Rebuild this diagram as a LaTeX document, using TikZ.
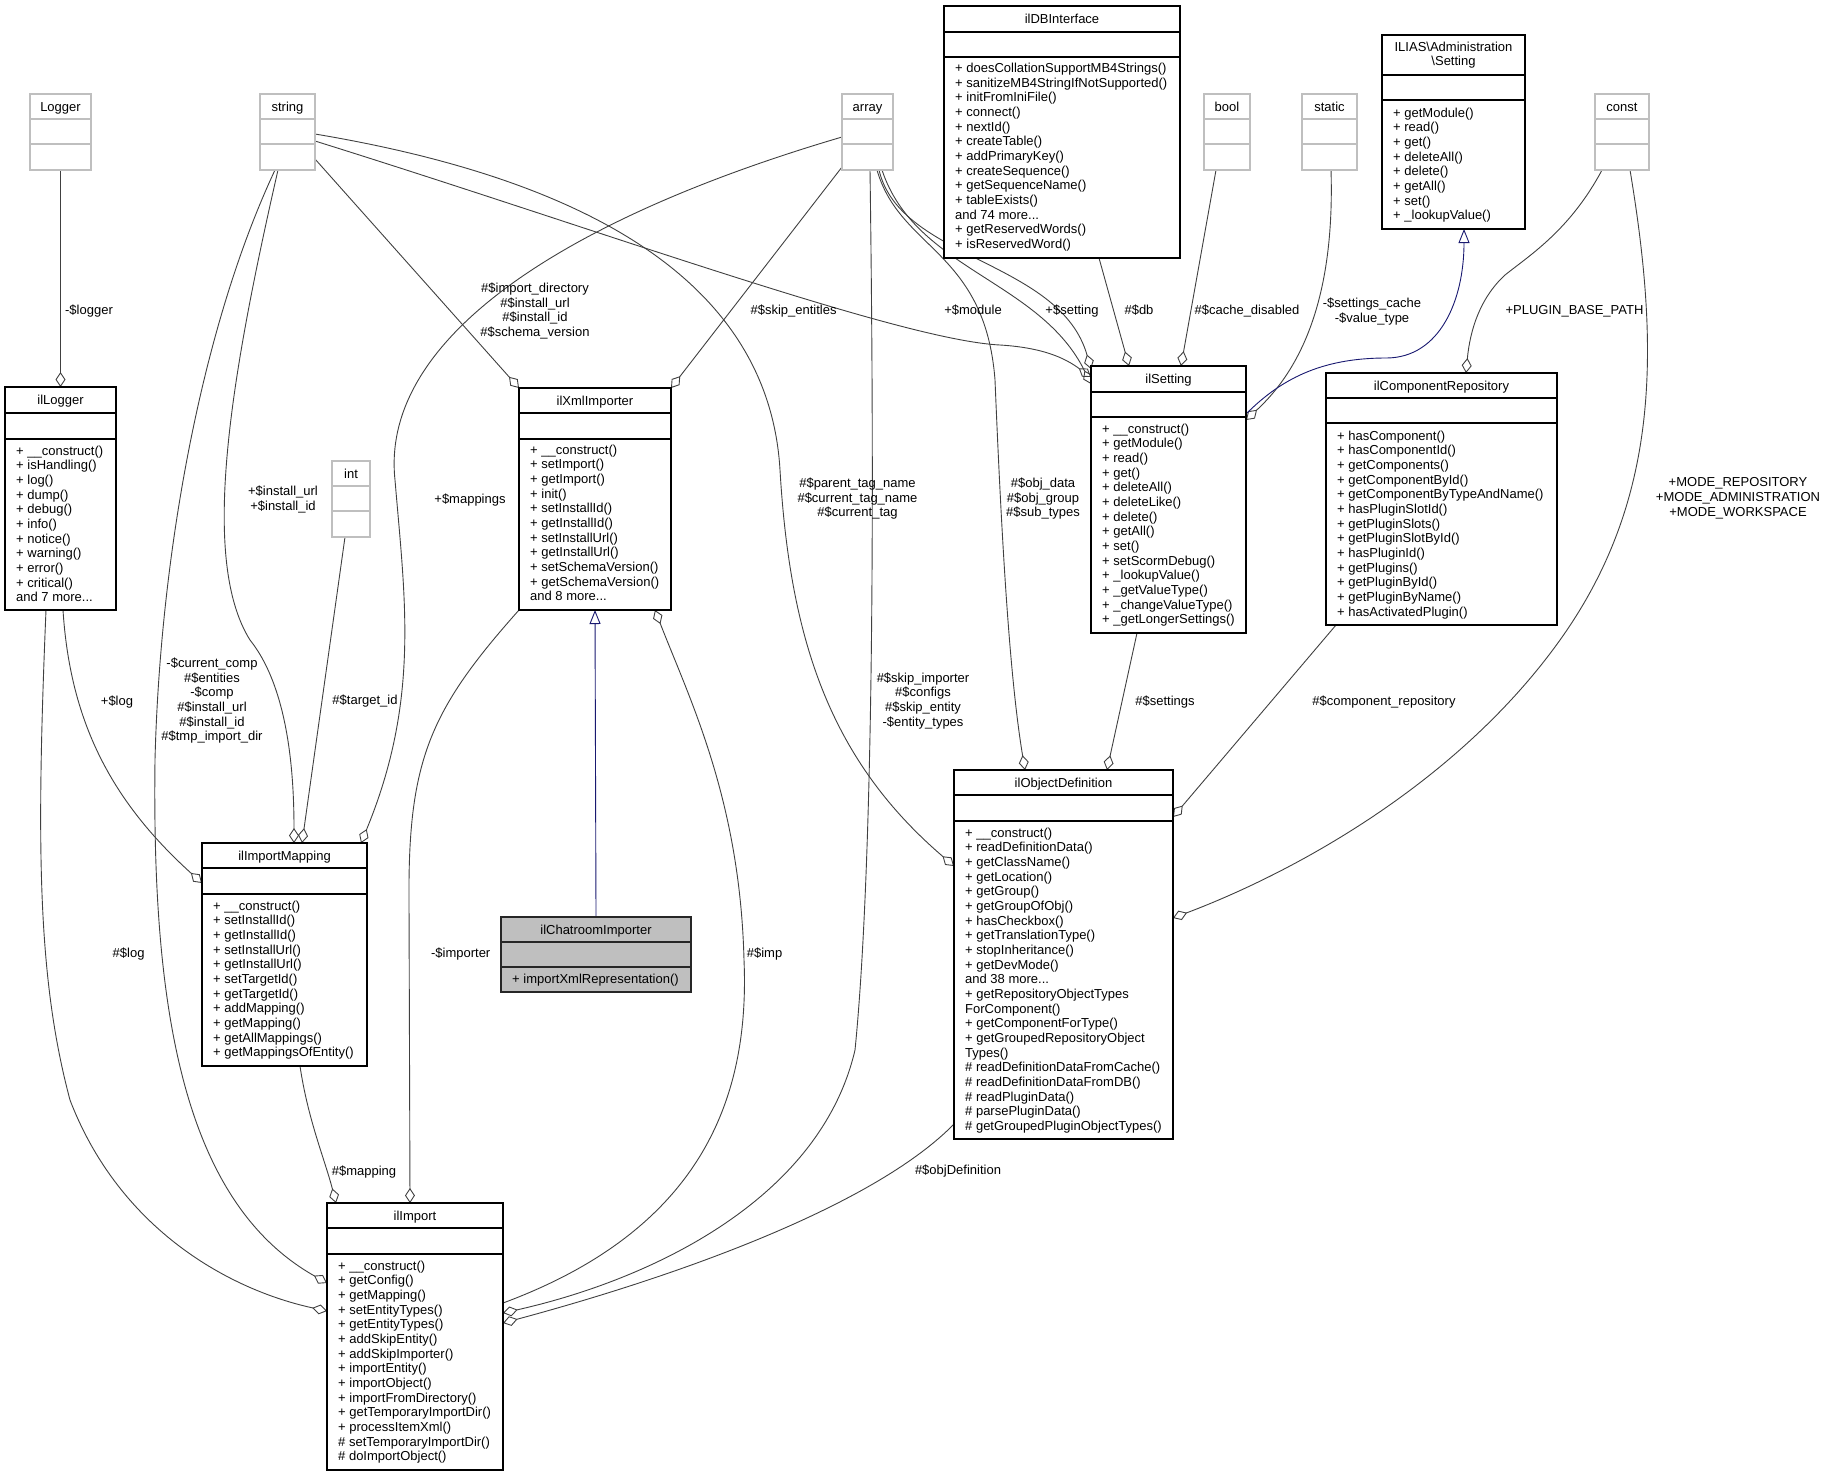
\documentclass[tikz,border=0pt]{standalone}
\usepackage{fontspec}
\setmainfont{Liberation Sans}
\usetikzlibrary{arrows.meta,fit,calc}
\pgfdeclarelayer{edges}
\pgfsetlayers{edges,main}
\definecolor{edgec}{HTML}{404040}
\definecolor{typec}{HTML}{BFBFBF}
\definecolor{inhc}{HTML}{191970}
\definecolor{chatfill}{HTML}{BFBFBF}
\tikzset{
 cb/.style={draw=black, line width=1.1pt, fill=white, inner sep=0pt, outer sep=0pt},
 tb/.style={draw=typec, line width=1.1pt, fill=white, inner sep=0pt, outer sep=0pt},
 gb/.style={draw=black!85, line width=1.1pt, fill=chatfill, inner sep=0pt, outer sep=0pt},
 ttl/.style={anchor=base, inner sep=0pt, font=\fontsize{13}{14.65}\selectfont},
 mth/.style={anchor=north west, align=left, inner sep=0pt, font=\fontsize{13}{14.65}\selectfont, execute at begin node=\rule{0pt}{9.8pt}},
 lab/.style={anchor=north, align=center, inner sep=0pt, font=\fontsize{13}{14.65}\selectfont, execute at begin node=\rule{0pt}{9.8pt}},
 aggr/.style={draw=edgec, line width=0.9pt, -{Diamond[open, length=15pt, width=10pt]}},
 inh/.style={draw=inhc, line width=0.9pt, -{Triangle[open, length=14pt, width=11pt]}},
}
% name, style, left, top, right, bottom, sep1, sep2, title
\newcommand{\umlcls}[9]{%
  \node[#2, fit={(#3,#4) (#5,#6)}] (#1) {};
  \draw[#2] (#3,#7) -- (#5,#7) (#3,#8) -- (#5,#8);
  \node[ttl] (#1-title) at ({(#3+#5)/2},{(#4+#7)/2+4.5}) {#9};
}
\begin{document}
\begin{tikzpicture}[x=1pt,y=-1pt]
\useasboundingbox (0,0) rectangle (1830,1476);

% type boxes
\umlcls{Logger}{tb}{30}{94}{91}{170}{119}{144}{Logger}
\umlcls{string}{tb}{260}{94}{315}{170}{119}{144}{string}
\umlcls{array}{tb}{842}{94}{893}{170}{119}{144}{array}
\umlcls{bool}{tb}{1204}{94}{1250}{170}{119}{144}{bool}
\umlcls{static}{tb}{1302}{94}{1357}{170}{119}{144}{static}
\umlcls{const}{tb}{1595}{94}{1649}{170}{119}{144}{const}
\umlcls{int}{tb}{332}{461}{370}{537}{486}{511}{int}

% classes
\umlcls{ilDBInterface}{cb}{944}{6}{1180}{258}{32}{57}{ilDBInterface}
\node[mth] (ilDBInterface-m) at (955,63) {+ doesCollationSupportMB4Strings()\\+ sanitizeMB4StringIfNotSupported()\\+ initFromIniFile()\\+ connect()\\+ nextId()\\+ createTable()\\+ addPrimaryKey()\\+ createSequence()\\+ getSequenceName()\\+ tableExists()\\and 74 more...\\+ getReservedWords()\\+ isReservedWord()};

\node[cb, fit={(1382,35) (1525,229)}] (ILIASSetting) {};
\draw[cb] (1382,75) -- (1525,75) (1382,100) -- (1525,100);
\node[lab] (ILIASSetting-title) at (1453.5,41.7) {ILIAS\textbackslash Administration\\\textbackslash Setting};
\node[mth] (ILIASSetting-m) at (1393,107.7) {+ getModule()\\+ read()\\+ get()\\+ deleteAll()\\+ delete()\\+ getAll()\\+ set()\\+ \_lookupValue()};

\umlcls{ilLogger}{cb}{5}{387}{116}{610}{413}{439}{ilLogger}
\node[mth] (ilLogger-m) at (16,445.7) {+ \_\_construct()\\+ isHandling()\\+ log()\\+ dump()\\+ debug()\\+ info()\\+ notice()\\+ warning()\\+ error()\\+ critical()\\and 7 more...};

\umlcls{ilXmlImporter}{cb}{519}{388}{671}{610}{413}{439}{ilXmlImporter}
\node[mth] (ilXmlImporter-m) at (530,444.7) {+ \_\_construct()\\+ setImport()\\+ getImport()\\+ init()\\+ setInstallId()\\+ getInstallId()\\+ setInstallUrl()\\+ getInstallUrl()\\+ setSchemaVersion()\\+ getSchemaVersion()\\and 8 more...};

\umlcls{ilSetting}{cb}{1091}{366}{1246}{633}{392}{417}{ilSetting}
\node[mth] (ilSetting-m) at (1102,423.7) {+ \_\_construct()\\+ getModule()\\+ read()\\+ get()\\+ deleteAll()\\+ deleteLike()\\+ delete()\\+ getAll()\\+ set()\\+ setScormDebug()\\+ \_lookupValue()\\+ \_getValueType()\\+ \_changeValueType()\\+ \_getLongerSettings()};

\umlcls{ilComponentRepository}{cb}{1326}{373}{1557}{625}{398}{423}{ilComponentRepository}
\node[mth] (ilComponentRepository-m) at (1337,430.7) {+ hasComponent()\\+ hasComponentId()\\+ getComponents()\\+ getComponentById()\\+ getComponentByTypeAndName()\\+ hasPluginSlotId()\\+ getPluginSlots()\\+ getPluginSlotById()\\+ hasPluginId()\\+ getPlugins()\\+ getPluginById()\\+ getPluginByName()\\+ hasActivatedPlugin()};

\umlcls{ilImportMapping}{cb}{202}{843}{367}{1066}{868}{894}{ilImportMapping}
\node[mth] (ilImportMapping-m) at (213,900.7) {+ \_\_construct()\\+ setInstallId()\\+ getInstallId()\\+ setInstallUrl()\\+ getInstallUrl()\\+ setTargetId()\\+ getTargetId()\\+ addMapping()\\+ getMapping()\\+ getAllMappings()\\+ getMappingsOfEntity()};

\umlcls{ilChatroomImporter}{gb}{501}{917}{691}{992}{942}{967}{ilChatroomImporter}
\node[mth] (ilChatroomImporter-m) at (512,973.2) {+ importXmlRepresentation()};

\umlcls{ilObjectDefinition}{cb}{954}{770}{1173}{1139}{795}{821}{ilObjectDefinition}
\node[mth] (ilObjectDefinition-m) at (965,827.7) {+ \_\_construct()\\+ readDefinitionData()\\+ getClassName()\\+ getLocation()\\+ getGroup()\\+ getGroupOfObj()\\+ hasCheckbox()\\+ getTranslationType()\\+ stopInheritance()\\+ getDevMode()\\and 38 more...\\+ getRepositoryObjectTypes\\ForComponent()\\+ getComponentForType()\\+ getGroupedRepositoryObject\\Types()\\\# readDefinitionDataFromCache()\\\# readDefinitionDataFromDB()\\\# readPluginData()\\\# parsePluginData()\\\# getGroupedPluginObjectTypes()};

\umlcls{ilImport}{cb}{327}{1203}{503}{1470}{1228}{1254}{ilImport}
\node[mth] (ilImport-m) at (338,1260.7) {+ \_\_construct()\\+ getConfig()\\+ getMapping()\\+ setEntityTypes()\\+ getEntityTypes()\\+ addSkipEntity()\\+ addSkipImporter()\\+ importEntity()\\+ importObject()\\+ importFromDirectory()\\+ getTemporaryImportDir()\\+ processItemXml()\\\# setTemporaryImportDir()\\\# doImportObject()};

% connectors
\begin{pgfonlayer}{edges}
\draw[aggr] (Logger.south) -- (ilLogger.north);
\draw[aggr] ($(ilLogger.south west)+(58,0)$) .. controls (70,720) and (110,800) .. ($(ilImportMapping.north west)+(0,40)$);
\draw[aggr] ($(ilLogger.south west)+(41,0)$) .. controls (36,850) and (38,980) .. (70,1100) .. controls (120,1230) and (230,1290) .. ($(ilImport.north west)+(0,108)$);
\draw[aggr] ($(string.south west)+(15,0)$) .. controls (200,330) and (160,560) .. (155,760) .. controls (152,1000) and (180,1200) .. ($(ilImport.north west)+(0,80)$);
\draw[aggr] ($(string.south west)+(18,0)$) .. controls (230,380) and (200,560) .. (250,640) .. controls (290,690) and (294,780) .. ($(ilImportMapping.north west)+(92,0)$);
\draw[aggr] ($(int.south west)+(13,0)$) -- ($(ilImportMapping.north west)+(100,0)$);
\draw[aggr] ($(array.north west)+(0,43)$) .. controls (560,220) and (380,340) .. (395,480) .. controls (405,600) and (420,700) .. ($(ilImportMapping.north west)+(159,0)$);
\draw[aggr] ($(string.north west)+(55,65)$) -- (ilXmlImporter.north west);
\draw[aggr] ($(array.north west)+(0,73)$) -- (ilXmlImporter.north east);
\draw[aggr] ($(string.north west)+(55,47)$) .. controls (600,230) and (900,340) .. (1000,345) .. controls (1050,348) and (1070,362) .. ($(ilSetting.north west)+(0,11)$);
\draw[aggr] ($(array.south west)+(37,0)$) .. controls (900,260) and (1060,260) .. ($(ilSetting.north west)+(0,3)$);
\draw[aggr] ($(array.south west)+(40,0)$) .. controls (915,270) and (1040,280) .. ($(ilSetting.north west)+(0,18)$);
\draw[aggr] ($(array.south west)+(35,0)$) .. controls (900,250) and (985,250) .. (995,380) .. controls (1002,550) and (1010,680) .. ($(ilObjectDefinition.north west)+(71,0)$);
\draw[aggr] ($(array.south west)+(28,0)$) .. controls (876,600) and (870,900) .. (855,1050) .. controls (820,1200) and (650,1280) .. ($(ilImport.north east)+(0,110)$);
\draw[aggr] ($(ilDBInterface.south west)+(155,0)$) -- ($(ilSetting.north west)+(38,0)$);
\draw[aggr] ($(bool.south west)+(12,0)$) -- ($(ilSetting.north west)+(90,0)$);
\draw[aggr] ($(static.south west)+(29,0)$) .. controls (1335,300) and (1300,370) .. ($(ilSetting.north east)+(0,54)$);
\draw[inh] ($(ilSetting.north east)+(0,48)$) .. controls (1280,380) and (1320,358) .. (1386,358) .. controls (1440,358) and (1464,300) .. ($(ILIASSetting.south west)+(82,0)$);
\draw[aggr] ($(const.south west)+(7,0)$) .. controls (1570,230) and (1530,255) .. (1505,275) .. controls (1480,298) and (1470,330) .. ($(ilComponentRepository.north west)+(140,0)$);
\draw[aggr] ($(const.south west)+(35,0)$) .. controls (1660,350) and (1660,500) .. (1560,640) .. controls (1460,780) and (1300,870) .. ($(ilObjectDefinition.north east)+(0,148)$);
\draw[aggr] ($(ilComponentRepository.south west)+(10,0)$) -- ($(ilObjectDefinition.north east)+(0,47)$);
\draw[aggr] ($(ilSetting.south west)+(46,0)$) -- ($(ilObjectDefinition.north west)+(153,0)$);
\draw[aggr] ($(string.north west)+(55,40)$) .. controls (620,185) and (770,300) .. (780,470) .. controls (790,640) and (830,760) .. ($(ilObjectDefinition.north west)+(0,96)$);
\draw[aggr] ($(ilObjectDefinition.north west)+(0,354)$) .. controls (880,1200) and (700,1270) .. ($(ilImport.north east)+(0,120)$);
\draw[aggr] ($(ilImport.north east)+(0,100)$) .. controls (700,1230) and (750,1100) .. (744,960) .. controls (740,800) and (690,700) .. ($(ilXmlImporter.south west)+(136,0)$);
\draw[aggr] (ilXmlImporter.south west) .. controls (430,710) and (408,760) .. (409,900) -- ($(ilImport.north west)+(83,0)$);
\draw[aggr] ($(ilImportMapping.south west)+(98,0)$) .. controls (308,1120) and (325,1160) .. ($(ilImport.north west)+(9,0)$);
\draw[inh] (ilChatroomImporter.north) -- (ilXmlImporter.south);
\end{pgfonlayer}

% connector labels
\node[lab] (l-logger) at (89,304.7) {-\$logger};
\node[lab] (l-instmap) at (283,485.7) {+\$install\_url\\+\$install\_id};
\node[lab] (l-curcomp) at (212,657.7) {-\$current\_comp\\\#\$entities\\-\$comp\\\#\$install\_url\\\#\$install\_id\\\#\$tmp\_import\_dir};
\node[lab] (l-log1) at (117,695.7) {+\$log};
\node[lab] (l-log2) at (128.6,947.7) {\#\$log};
\node[lab] (l-target) at (365,694.7) {\#\$target\_id};
\node[lab] (l-mapping) at (364,1165.2) {\#\$mapping};
\node[lab] (l-importer) at (460.7,947.7) {-\$importer};
\node[lab] (l-imp) at (764.6,947.7) {\#\$imp};
\node[lab] (l-skipimp) at (923,672.3) {\#\$skip\_importer\\\#\$configs\\\#\$skip\_entity\\-\$entity\_types};
\node[lab] (l-objdef) at (958,1164.3) {\#\$objDefinition};
\node[lab] (l-impdir) at (535,282.7) {\#\$import\_directory\\\#\$install\_url\\\#\$install\_id\\\#\$schema\_version};
\node[lab] (l-mappings) at (470,493.7) {+\$mappings};
\node[lab] (l-skipent) at (793.6,304.7) {\#\$skip\_entitles};
\node[lab] (l-module) at (973,304.7) {+\$module};
\node[lab] (l-setting) at (1072,304.7) {+\$setting};
\node[lab] (l-db) at (1139,304.7) {\#\$db};
\node[lab] (l-cache) at (1247,304.7) {\#\$cache\_disabled};
\node[lab] (l-scache) at (1372,297.7) {-\$settings\_cache\\-\$value\_type};
\node[lab] (l-plugin) at (1574.5,304.7) {+PLUGIN\_BASE\_PATH};
\node[lab] (l-parent) at (857.5,477.7) {\#\$parent\_tag\_name\\\#\$current\_tag\_name\\\#\$current\_tag};
\node[lab] (l-objdata) at (1043,477.7) {\#\$obj\_data\\\#\$obj\_group\\\#\$sub\_types};
\node[lab] (l-settings) at (1165,695.7) {\#\$settings};
\node[lab] (l-comprep) at (1384,695.7) {\#\$component\_repository};
\node[lab] (l-mode) at (1738,477.7) {+MODE\_REPOSITORY\\+MODE\_ADMINISTRATION\\+MODE\_WORKSPACE};
\end{tikzpicture}
\end{document}
